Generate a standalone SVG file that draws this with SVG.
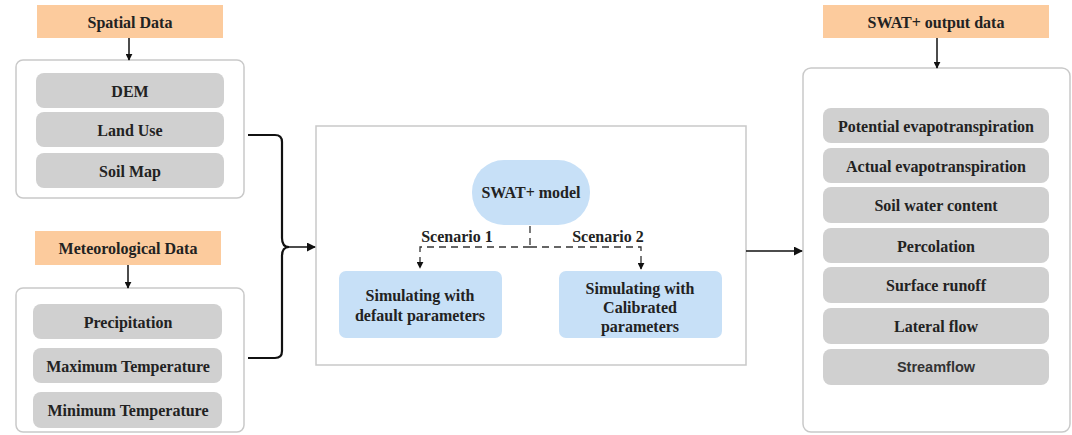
<svg xmlns="http://www.w3.org/2000/svg" width="1072" height="435" viewBox="0 0 1072 435">
<style>
.hdr{fill:#FCCB9D}
.outer{fill:#fff;stroke:#c9c9c9;stroke-width:1.5}
.item{fill:#d0d0d0}
.blue{fill:#c7e0f7}
.t{font-family:"Liberation Serif","Times New Roman",serif;font-weight:bold;font-size:16px;fill:#222;text-anchor:middle;dominant-baseline:central}
.s{font-family:"Liberation Sans",Arial,sans-serif;font-weight:bold;font-size:14.5px;fill:#333;text-anchor:middle;dominant-baseline:central}
.ln{fill:none;stroke:#111;stroke-width:1.5}
.bl{fill:none;stroke:#111;stroke-width:2.2}
.ds{fill:none;stroke:#333;stroke-width:1.3;stroke-dasharray:7 5}
</style>
<defs>
<marker id="ah" viewBox="0 0 10 10" refX="9" refY="5" markerWidth="7" markerHeight="7" orient="auto" markerUnits="userSpaceOnUse">
<path d="M0,0 L10,5 L0,10 z" fill="#111"/>
</marker>
<marker id="ah2" viewBox="0 0 10 10" refX="9" refY="5" markerWidth="9" markerHeight="9" orient="auto" markerUnits="userSpaceOnUse">
<path d="M0,0 L10,5 L0,10 z" fill="#111"/>
</marker>
</defs>
<rect width="1072" height="435" fill="#fff"/>

<g id="spatial-header"><rect class="hdr" x="37" y="5" width="186" height="33"/><text class="t" x="130" y="22">Spatial Data</text></g>
<g id="spatial-box">
<rect class="outer" x="16" y="60" width="228" height="138" rx="7"/>
<rect class="item" x="36" y="73" width="188" height="35" rx="8"/><text class="t" x="130" y="91">DEM</text>
<rect class="item" x="36" y="112" width="188" height="35" rx="8"/><text class="t" x="130" y="130">Land Use</text>
<rect class="item" x="36" y="153" width="188" height="35" rx="8"/><text class="t" x="130" y="171">Soil Map</text>
</g>

<g id="meteo-header"><rect class="hdr" x="35" y="231" width="186" height="34"/><text class="t" x="128" y="248">Meteorological Data</text></g>
<g id="meteo-box">
<rect class="outer" x="16" y="288" width="228" height="144" rx="7"/>
<rect class="item" x="33" y="304" width="189" height="35" rx="8"/><text class="t" x="128" y="322">Precipitation</text>
<rect class="item" x="33" y="348" width="189" height="35" rx="8"/><text class="t" x="128" y="366">Maximum Temperature</text>
<rect class="item" x="33" y="392" width="189" height="36" rx="8"/><text class="t" x="128" y="410">Minimum Temperature</text>
</g>

<g id="center-box">
<rect x="316" y="126" width="430" height="239" fill="#fff" stroke="#c9c9c9" stroke-width="1.5"/>
</g>
<g id="swat-model"><rect class="blue" x="472" y="160" width="118" height="65" rx="32"/><text class="t" x="531" y="192">SWAT+ model</text></g>
<g id="sim-default"><rect class="blue" x="339" y="271" width="163" height="67" rx="7"/><text class="t" x="420" y="295">Simulating with</text><text class="t" x="420" y="315">default parameters</text></g>
<g id="sim-calibrated"><rect class="blue" x="559" y="271" width="163" height="67" rx="7"/><text class="t" x="640" y="288">Simulating with</text><text class="t" x="640" y="307">Calibrated</text><text class="t" x="640" y="326">parameters</text></g>

<g id="output-header"><rect class="hdr" x="823" y="5" width="226" height="33"/><text class="t" x="936" y="22">SWAT+ output data</text></g>
<g id="output-box">
<rect class="outer" x="803" y="68" width="267" height="364" rx="8"/>
<rect class="item" x="823" y="108" width="226" height="35" rx="8"/><text class="t" x="936" y="126">Potential evapotranspiration</text>
<rect class="item" x="823" y="148" width="226" height="35" rx="8"/><text class="t" x="936" y="166">Actual evapotranspiration</text>
<rect class="item" x="823" y="187" width="226" height="36" rx="8"/><text class="t" x="936" y="205">Soil water content</text>
<rect class="item" x="823" y="228" width="226" height="35" rx="8"/><text class="t" x="936" y="246">Percolation</text>
<rect class="item" x="823" y="267" width="226" height="36" rx="8"/><text class="t" x="936" y="285">Surface runoff</text>
<rect class="item" x="823" y="308" width="226" height="36" rx="8"/><text class="t" x="936" y="326">Lateral flow</text>
<rect class="item" x="823" y="349" width="226" height="36" rx="8"/><text class="s" x="936" y="367">Streamflow</text>
</g>

<g id="connectors">
<line class="ln" x1="129" y1="38" x2="129" y2="60" marker-end="url(#ah)"/>
<line class="ln" x1="128" y1="265" x2="128" y2="288" marker-end="url(#ah)"/>
<line class="ln" x1="937" y1="38" x2="937" y2="68" marker-end="url(#ah)"/>
<path class="bl" d="M248,135 H275 Q282,135 282,142 V238 Q282,247 289,247 Q282,247 282,256 V351 Q282,358 275,358 H248"/>
<line class="ln" x1="288" y1="247" x2="315" y2="247" marker-end="url(#ah2)"/>
<line class="ln" x1="746" y1="251" x2="802" y2="251" marker-end="url(#ah2)"/>
<path class="ds" d="M530,226 V247"/>
<path class="ds" d="M530,247 H420 V268" marker-end="url(#ah)"/>
<path class="ds" d="M530,247 H641 V269" marker-end="url(#ah)"/>
<text class="t" x="457" y="236">Scenario 1</text>
<text class="t" x="608" y="236">Scenario 2</text>
</g>
</svg>
